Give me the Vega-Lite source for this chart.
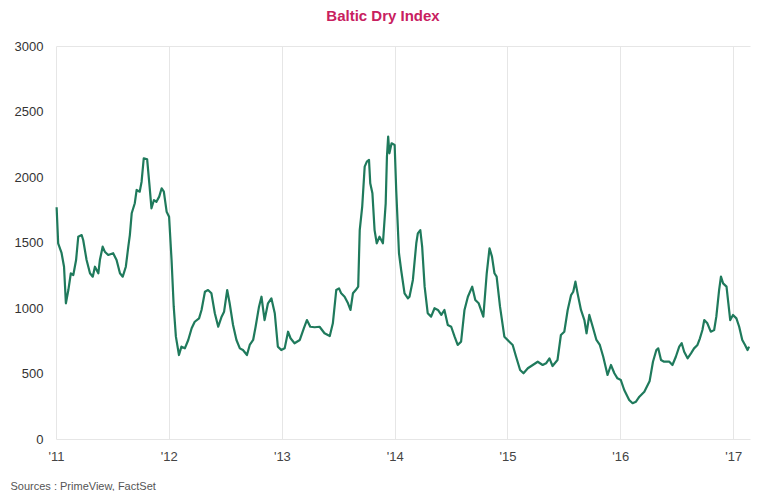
{
  "$schema": "https://vega.github.io/schema/vega-lite/v6.json",
  "width": 694,
  "height": 393,
  "autosize": "none",
  "padding": {"left": 56, "top": 46, "right": 16, "bottom": 52},
  "background": "white",
  "title": {"text": "Baltic Dry Index", "color": "#c8205f", "fontSize": 15, "font": "Liberation Sans", "fontWeight": "bold", "anchor": "middle", "dx": -20, "offset": 16},
  "config": {"view": {"stroke": null}, "font": "Liberation Sans"},
  "data": {"values": [
    {"date": "2011-01-03", "bdi": 1769}, {"date": "2011-01-08", "bdi": 1494}, {"date": "2011-01-19", "bdi": 1420}, {"date": "2011-01-27", "bdi": 1315},
    {"date": "2011-02-02", "bdi": 1036}, {"date": "2011-02-10", "bdi": 1137}, {"date": "2011-02-18", "bdi": 1265}, {"date": "2011-02-26", "bdi": 1252},
    {"date": "2011-03-07", "bdi": 1366}, {"date": "2011-03-14", "bdi": 1544}, {"date": "2011-03-25", "bdi": 1557}, {"date": "2011-03-30", "bdi": 1519},
    {"date": "2011-04-10", "bdi": 1366}, {"date": "2011-04-21", "bdi": 1265}, {"date": "2011-04-30", "bdi": 1239}, {"date": "2011-05-07", "bdi": 1315},
    {"date": "2011-05-18", "bdi": 1265}, {"date": "2011-05-23", "bdi": 1366}, {"date": "2011-06-01", "bdi": 1468}, {"date": "2011-06-08", "bdi": 1430},
    {"date": "2011-06-19", "bdi": 1405}, {"date": "2011-07-05", "bdi": 1418}, {"date": "2011-07-16", "bdi": 1366}, {"date": "2011-07-27", "bdi": 1265},
    {"date": "2011-08-05", "bdi": 1239}, {"date": "2011-08-15", "bdi": 1315}, {"date": "2011-08-23", "bdi": 1468}, {"date": "2011-08-28", "bdi": 1557},
    {"date": "2011-09-03", "bdi": 1723}, {"date": "2011-09-13", "bdi": 1800}, {"date": "2011-09-19", "bdi": 1901}, {"date": "2011-09-29", "bdi": 1888},
    {"date": "2011-10-05", "bdi": 1964}, {"date": "2011-10-12", "bdi": 2143}, {"date": "2011-10-23", "bdi": 2135}, {"date": "2011-10-30", "bdi": 1952},
    {"date": "2011-11-06", "bdi": 1761}, {"date": "2011-11-14", "bdi": 1824}, {"date": "2011-11-22", "bdi": 1811}, {"date": "2011-12-01", "bdi": 1850},
    {"date": "2011-12-09", "bdi": 1914}, {"date": "2011-12-16", "bdi": 1888}, {"date": "2011-12-25", "bdi": 1735}, {"date": "2012-01-02", "bdi": 1697},
    {"date": "2012-01-10", "bdi": 1366}, {"date": "2012-01-17", "bdi": 1010}, {"date": "2012-01-24", "bdi": 781}, {"date": "2012-02-03", "bdi": 641},
    {"date": "2012-02-11", "bdi": 705}, {"date": "2012-02-22", "bdi": 692}, {"date": "2012-03-04", "bdi": 756}, {"date": "2012-03-15", "bdi": 845},
    {"date": "2012-03-25", "bdi": 895}, {"date": "2012-04-08", "bdi": 921}, {"date": "2012-04-16", "bdi": 985}, {"date": "2012-04-27", "bdi": 1124},
    {"date": "2012-05-07", "bdi": 1137}, {"date": "2012-05-18", "bdi": 1112}, {"date": "2012-05-29", "bdi": 960}, {"date": "2012-06-09", "bdi": 857},
    {"date": "2012-06-20", "bdi": 934}, {"date": "2012-06-28", "bdi": 972}, {"date": "2012-07-08", "bdi": 1137}, {"date": "2012-07-16", "bdi": 1036},
    {"date": "2012-07-27", "bdi": 870}, {"date": "2012-08-07", "bdi": 756}, {"date": "2012-08-18", "bdi": 692}, {"date": "2012-08-28", "bdi": 679},
    {"date": "2012-09-10", "bdi": 641}, {"date": "2012-09-19", "bdi": 718}, {"date": "2012-09-30", "bdi": 756}, {"date": "2012-10-08", "bdi": 857},
    {"date": "2012-10-19", "bdi": 1010}, {"date": "2012-10-27", "bdi": 1086}, {"date": "2012-11-06", "bdi": 908}, {"date": "2012-11-17", "bdi": 1036},
    {"date": "2012-11-28", "bdi": 1074}, {"date": "2012-12-09", "bdi": 960}, {"date": "2012-12-19", "bdi": 705}, {"date": "2012-12-30", "bdi": 679},
    {"date": "2013-01-10", "bdi": 692}, {"date": "2013-01-21", "bdi": 819}, {"date": "2013-01-29", "bdi": 769}, {"date": "2013-02-11", "bdi": 731},
    {"date": "2013-02-28", "bdi": 756}, {"date": "2013-03-13", "bdi": 845}, {"date": "2013-03-23", "bdi": 908}, {"date": "2013-04-03", "bdi": 857},
    {"date": "2013-04-17", "bdi": 853}, {"date": "2013-05-03", "bdi": 857}, {"date": "2013-05-19", "bdi": 807}, {"date": "2013-06-05", "bdi": 786},
    {"date": "2013-06-15", "bdi": 883}, {"date": "2013-06-26", "bdi": 1137}, {"date": "2013-07-05", "bdi": 1150}, {"date": "2013-07-12", "bdi": 1112},
    {"date": "2013-07-23", "bdi": 1086}, {"date": "2013-08-03", "bdi": 1036}, {"date": "2013-08-11", "bdi": 985}, {"date": "2013-08-19", "bdi": 1112},
    {"date": "2013-08-28", "bdi": 1137}, {"date": "2013-09-05", "bdi": 1163}, {"date": "2013-09-10", "bdi": 1595}, {"date": "2013-09-18", "bdi": 1773},
    {"date": "2013-09-26", "bdi": 2079}, {"date": "2013-10-03", "bdi": 2117}, {"date": "2013-10-10", "bdi": 2130}, {"date": "2013-10-14", "bdi": 1952},
    {"date": "2013-10-21", "bdi": 1876}, {"date": "2013-10-28", "bdi": 1595}, {"date": "2013-11-04", "bdi": 1494}, {"date": "2013-11-13", "bdi": 1544},
    {"date": "2013-11-24", "bdi": 1494}, {"date": "2013-12-03", "bdi": 1799}, {"date": "2013-12-07", "bdi": 2155}, {"date": "2013-12-11", "bdi": 2308},
    {"date": "2013-12-15", "bdi": 2181}, {"date": "2013-12-22", "bdi": 2257}, {"date": "2014-01-01", "bdi": 2244}, {"date": "2014-01-06", "bdi": 1901},
    {"date": "2014-01-15", "bdi": 1418}, {"date": "2014-01-22", "bdi": 1290}, {"date": "2014-02-02", "bdi": 1112}, {"date": "2014-02-13", "bdi": 1074},
    {"date": "2014-02-18", "bdi": 1086}, {"date": "2014-03-01", "bdi": 1214}, {"date": "2014-03-12", "bdi": 1494}, {"date": "2014-03-17", "bdi": 1570},
    {"date": "2014-03-25", "bdi": 1595}, {"date": "2014-03-31", "bdi": 1468}, {"date": "2014-04-08", "bdi": 1163}, {"date": "2014-04-18", "bdi": 960},
    {"date": "2014-04-29", "bdi": 934}, {"date": "2014-05-10", "bdi": 998}, {"date": "2014-05-21", "bdi": 985}, {"date": "2014-06-01", "bdi": 947},
    {"date": "2014-06-11", "bdi": 985}, {"date": "2014-06-22", "bdi": 870}, {"date": "2014-07-03", "bdi": 857}, {"date": "2014-07-14", "bdi": 781},
    {"date": "2014-07-24", "bdi": 718}, {"date": "2014-08-04", "bdi": 743}, {"date": "2014-08-15", "bdi": 985}, {"date": "2014-08-26", "bdi": 1086},
    {"date": "2014-09-09", "bdi": 1163}, {"date": "2014-09-19", "bdi": 1061}, {"date": "2014-09-30", "bdi": 1036}, {"date": "2014-10-15", "bdi": 934},
    {"date": "2014-10-26", "bdi": 1265}, {"date": "2014-11-04", "bdi": 1456}, {"date": "2014-11-12", "bdi": 1392}, {"date": "2014-11-20", "bdi": 1265},
    {"date": "2014-11-27", "bdi": 1239}, {"date": "2014-12-08", "bdi": 1010}, {"date": "2014-12-22", "bdi": 781}, {"date": "2015-01-07", "bdi": 743},
    {"date": "2015-01-18", "bdi": 718}, {"date": "2015-01-29", "bdi": 628}, {"date": "2015-02-11", "bdi": 527}, {"date": "2015-02-22", "bdi": 502},
    {"date": "2015-03-08", "bdi": 540}, {"date": "2015-03-24", "bdi": 565}, {"date": "2015-04-09", "bdi": 590}, {"date": "2015-04-25", "bdi": 565},
    {"date": "2015-05-06", "bdi": 578}, {"date": "2015-05-17", "bdi": 616}, {"date": "2015-05-27", "bdi": 557}, {"date": "2015-06-12", "bdi": 603},
    {"date": "2015-06-23", "bdi": 794}, {"date": "2015-07-04", "bdi": 819}, {"date": "2015-07-15", "bdi": 985}, {"date": "2015-07-26", "bdi": 1099},
    {"date": "2015-08-02", "bdi": 1124}, {"date": "2015-08-09", "bdi": 1201}, {"date": "2015-08-16", "bdi": 1112}, {"date": "2015-08-27", "bdi": 985},
    {"date": "2015-09-07", "bdi": 908}, {"date": "2015-09-14", "bdi": 807}, {"date": "2015-09-23", "bdi": 947}, {"date": "2015-10-04", "bdi": 857},
    {"date": "2015-10-16", "bdi": 756}, {"date": "2015-10-27", "bdi": 718}, {"date": "2015-11-07", "bdi": 628}, {"date": "2015-11-21", "bdi": 489},
    {"date": "2015-12-02", "bdi": 565}, {"date": "2015-12-13", "bdi": 502}, {"date": "2015-12-23", "bdi": 463}, {"date": "2016-01-03", "bdi": 450},
    {"date": "2016-01-14", "bdi": 374}, {"date": "2016-01-30", "bdi": 298}, {"date": "2016-02-10", "bdi": 273}, {"date": "2016-02-21", "bdi": 285},
    {"date": "2016-03-03", "bdi": 323}, {"date": "2016-03-19", "bdi": 361}, {"date": "2016-04-05", "bdi": 440}, {"date": "2016-04-16", "bdi": 590},
    {"date": "2016-04-27", "bdi": 679}, {"date": "2016-05-03", "bdi": 692}, {"date": "2016-05-12", "bdi": 603}, {"date": "2016-05-22", "bdi": 590},
    {"date": "2016-06-08", "bdi": 590}, {"date": "2016-06-18", "bdi": 565}, {"date": "2016-06-29", "bdi": 628}, {"date": "2016-07-10", "bdi": 705},
    {"date": "2016-07-18", "bdi": 731}, {"date": "2016-07-26", "bdi": 666}, {"date": "2016-08-06", "bdi": 616}, {"date": "2016-08-17", "bdi": 654},
    {"date": "2016-08-27", "bdi": 692}, {"date": "2016-09-07", "bdi": 718}, {"date": "2016-09-15", "bdi": 769}, {"date": "2016-09-23", "bdi": 832},
    {"date": "2016-09-29", "bdi": 908}, {"date": "2016-10-09", "bdi": 883}, {"date": "2016-10-20", "bdi": 819}, {"date": "2016-10-31", "bdi": 832},
    {"date": "2016-11-07", "bdi": 934}, {"date": "2016-11-16", "bdi": 1137}, {"date": "2016-11-22", "bdi": 1239}, {"date": "2016-11-29", "bdi": 1188},
    {"date": "2016-12-10", "bdi": 1163}, {"date": "2016-12-16", "bdi": 1036}, {"date": "2016-12-22", "bdi": 908}, {"date": "2016-12-31", "bdi": 947},
    {"date": "2017-01-11", "bdi": 921}, {"date": "2017-01-20", "bdi": 857}, {"date": "2017-01-30", "bdi": 756}, {"date": "2017-02-08", "bdi": 718},
    {"date": "2017-02-16", "bdi": 679}, {"date": "2017-02-21", "bdi": 705}
  ]},
  "mark": {"type": "line", "color": "#1f7a5c", "strokeWidth": 2.2, "strokeJoin": "round"},
  "encoding": {
    "x": {
      "field": "date", "type": "temporal",
      "scale": {"type": "utc", "domain": ["2011-01-01", "2017-02-24"]},
      "axis": {
        "values": [{"year": 2011, "utc": true}, {"year": 2012, "utc": true}, {"year": 2013, "utc": true}, {"year": 2014, "utc": true}, {"year": 2015, "utc": true}, {"year": 2016, "utc": true}, {"year": 2017, "utc": true}],
        "labelExpr": "\"'\" + utcFormat(datum.value, '%y')",
        "domain": false, "ticks": false,
        "grid": true, "gridColor": "#e6e6e6", "gridWidth": 1,
        "labelPadding": 11, "labelFontSize": 13, "labelColor": "#444", "labelFont": "Liberation Sans", "labelAlign": "center", "labelFlush": false,
        "title": "Sources : PrimeView, FactSet",
        "titleFontSize": 11, "titleFontWeight": "normal", "titleColor": "#555", "titleFont": "Liberation Sans",
        "titleAnchor": "start", "titleAlign": "left", "titleX": -46, "titleY": 50, "titleBaseline": "alphabetic"
      }
    },
    "y": {
      "field": "bdi", "type": "quantitative",
      "scale": {"domain": [0, 3000], "nice": false},
      "axis": {
        "values": [0, 500, 1000, 1500, 2000, 2500, 3000],
        "format": "d",
        "domain": false, "ticks": false,
        "grid": true, "gridColor": "#e6e6e6",
        "gridOpacity": {"condition": {"test": "datum.value == 0 || datum.value == 3000", "value": 1}, "value": 0},
        "labelPadding": 13, "labelFontSize": 13, "labelColor": "#333", "labelFont": "Liberation Sans",
        "title": null
      }
    }
  }
}
